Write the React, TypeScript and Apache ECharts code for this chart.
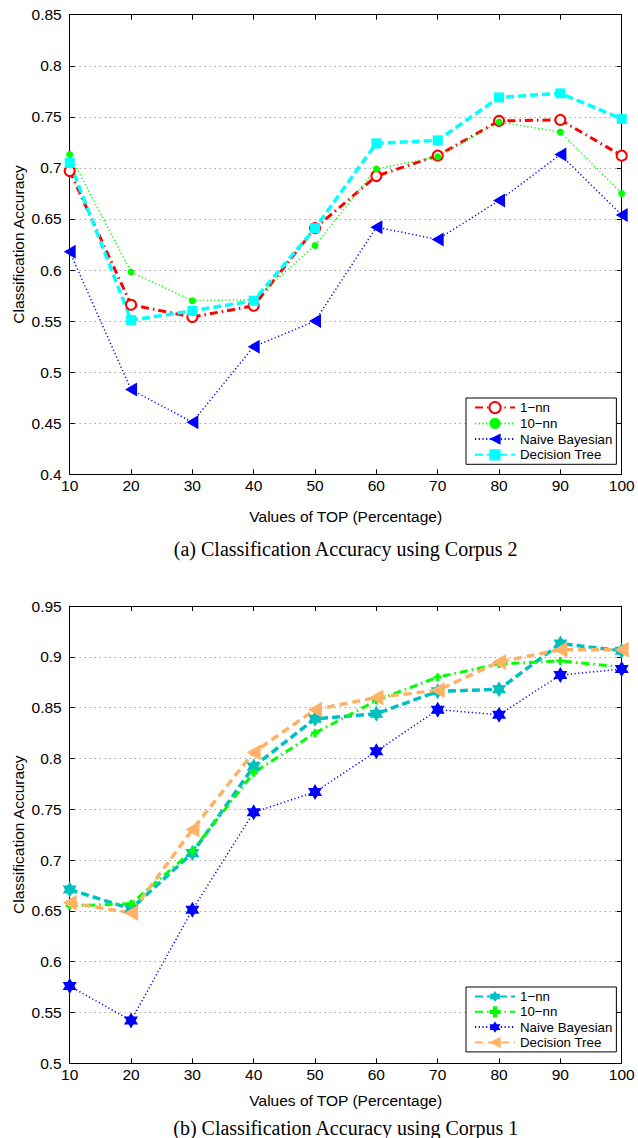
import React, { useEffect, useRef } from "react";
import * as echarts from "echarts";

// ---------- data ----------
const topValues = [10, 20, 30, 40, 50, 60, 70, 80, 90, 100];
const legendNames = ["1\u2212nn", "10\u2212nn", "Naive Bayesian", "Decision Tree"];

// (a) Corpus 2
const corpus2OneNN = [0.697, 0.566, 0.554, 0.565, 0.641, 0.692, 0.712, 0.746, 0.747, 0.712];
const corpus2TenNN = [0.713, 0.598, 0.570, 0.571, 0.624, 0.699, 0.711, 0.745, 0.735, 0.675];
const corpus2NaiveBayes = [0.618, 0.483, 0.451, 0.525, 0.550, 0.642, 0.630, 0.668, 0.713, 0.654];
const corpus2DecisionTree = [0.705, 0.551, 0.560, 0.570, 0.641, 0.724, 0.727, 0.769, 0.773, 0.748];

// (b) Corpus 1
const corpus1OneNN = [0.671, 0.652, 0.707, 0.792, 0.839, 0.844, 0.866, 0.868, 0.913, 0.906];
const corpus1TenNN = [0.655, 0.657, 0.709, 0.786, 0.825, 0.857, 0.880, 0.893, 0.896, 0.890];
const corpus1NaiveBayes = [0.576, 0.542, 0.651, 0.747, 0.767, 0.807, 0.848, 0.843, 0.882, 0.888];
const corpus1DecisionTree = [0.658, 0.648, 0.730, 0.806, 0.848, 0.860, 0.867, 0.895, 0.907, 0.907];

const titleA = "(a) Classification Accuracy using Corpus 2";
const titleB = "(b) Classification Accuracy using Corpus 1";
const xAxisName = "Values of TOP (Percentage)";
const yAxisName = "Classification Accuracy";

// ---------- styles ----------
const FONT = '"Liberation Sans", Arial, Helvetica, sans-serif';
const SERIF = '"Liberation Serif", "Times New Roman", serif';
const hexagram =
  "path://M0,-10L2.887,-5L8.66,-5L5.774,0L8.66,5L2.887,5L0,10L-2.887,5L-8.66,5L-5.774,0L-8.66,-5L-2.887,-5Z";
const plusMark = "path://M-1.3,-3.5H1.3V-1.3H3.5V1.3H1.3V3.5H-1.3V1.3H-3.5V-1.3H-1.3Z";

const pairs = (vals: number[]) => topValues.map((x, i) => [x, vals[i]]);

function lineSeries(name: string, vals: number[], color: string, width: number, dash: any, symbol: string, symbolSize: any, extra: any = {}) {
  return {
    type: "line",
    name,
    data: pairs(vals),
    symbol,
    symbolSize,
    showAllSymbol: true,
    silent: true,
    lineStyle: { color, width, type: dash },
    itemStyle: { color, borderColor: color, borderWidth: extra.borderWidth ?? 0 },
    symbolRotate: extra.rotate ?? 0,
    emphasis: { disabled: true },
    z: 2,
  };
}

function buildOption(cfg: any) {
  const gridLeft = 69.7;
  const gridWidth = 552;
  const axisLine = { show: true, onZero: false, lineStyle: { color: "#000", width: 1 } };
  const axisTick = { show: true, inside: true, length: 5, lineStyle: { color: "#000", width: 1 } };
  return {
    animation: false,
    backgroundColor: "#fff",
    grid: {
      left: gridLeft,
      top: cfg.gridTop,
      width: gridWidth,
      height: cfg.gridHeight,
      outerBoundsMode: "none",
      containLabel: false,
    },
    xAxis: [
      {
        type: "value",
        min: 10,
        max: 100,
        interval: 10,
        position: "bottom",
        axisLine,
        axisTick,
        splitLine: { show: false },
        axisLabel: { color: "#000", fontSize: 15.5, fontFamily: FONT, margin: 3 },
        name: xAxisName,
        nameLocation: "middle",
        nameGap: cfg.xNameGap,
        nameMoveOverlap: false,
        nameTextStyle: { color: "#000", fontSize: 15.5, fontFamily: FONT },
      },
      {
        type: "value",
        min: 10,
        max: 100,
        interval: 10,
        position: "top",
        axisLine,
        axisTick,
        splitLine: { show: false },
        axisLabel: { show: false },
      },
    ],
    yAxis: [
      {
        type: "value",
        min: cfg.yMin,
        max: cfg.yMax,
        interval: 0.05,
        position: "left",
        axisLine,
        axisTick,
        axisLabel: { color: "#000", fontSize: 15.5, fontFamily: FONT, margin: 8 },
        splitLine: {
          show: true,
          showMinLine: false,
          showMaxLine: false,
          lineStyle: { color: "#777", width: 1, type: [1, 4] },
        },
        name: yAxisName,
        nameLocation: "middle",
        nameGap: 43,
        nameRotate: 90,
        nameMoveOverlap: false,
        nameTextStyle: { color: "#000", fontSize: 15.5, fontFamily: FONT },
      },
      {
        type: "value",
        min: cfg.yMin,
        max: cfg.yMax,
        interval: 0.05,
        position: "right",
        axisLine,
        axisTick,
        axisLabel: { show: false },
        splitLine: { show: false },
      },
    ],
    legend: {
      orient: "vertical",
      left: 466,
      top: cfg.legendTop,
      padding: [3, 4, 3, 8],
      itemWidth: 40,
      itemHeight: 14,
      itemGap: cfg.legendGap,
      borderColor: "#000",
      borderWidth: 1,
      borderRadius: 0,
      backgroundColor: "#fff",
      selectedMode: false,
      textStyle: { color: "#000", fontSize: 13.3, fontFamily: FONT },
      data: legendNames,
      z: 10,
    },
    graphic: [
      {
        type: "text",
        x: gridLeft + gridWidth / 2,
        y: cfg.titleY,
        style: {
          text: cfg.title,
          font: `20px ${SERIF}`,
          fill: "#000",
          textAlign: "center",
          textVerticalAlign: "middle",
          align: "center",
          verticalAlign: "middle",
        },
      },
    ],
    series: cfg.series,
  };
}

const optionA = buildOption({
  yMin: 0.4,
  yMax: 0.85,
  gridTop: 14.7,
  gridHeight: 459.6,
  legendTop: 398,
  legendGap: 2.7,
  titleY: 549,
  xNameGap: 34,
  title: titleA,
  series: [
    lineSeries(legendNames[0], corpus2OneNN, "#ff0000", 3, [8, 4, 1.5, 4], "emptyCircle", 10, { borderWidth: 2.5 }),
    lineSeries(legendNames[1], corpus2TenNN, "#00ff00", 1.5, [1.2, 2.5], "circle", 7),
    lineSeries(legendNames[2], corpus2NaiveBayes, "#0000ff", 1.5, [1.2, 2.5], "triangle", [14, 12], { rotate: 90 }),
    lineSeries(legendNames[3], corpus2DecisionTree, "#00ffff", 3.5, [8, 4], "rect", 10),
  ],
});

const optionB = buildOption({
  yMin: 0.5,
  yMax: 0.95,
  gridTop: 37,
  gridHeight: 457.3,
  legendTop: 418,
  legendGap: 2.3,
  titleY: 559,
  xNameGap: 29,
  title: titleB,
  series: [
    lineSeries(legendNames[0], corpus1OneNN, "#00bfbf", 3.5, [8, 4], hexagram, [14, 16]),
    lineSeries(legendNames[1], corpus1TenNN, "#00ff00", 3, [8, 4, 1.5, 4], plusMark, 8),
    lineSeries(legendNames[2], corpus1NaiveBayes, "#0000ff", 1.5, [1.2, 2.5], hexagram, [14, 16]),
    lineSeries(legendNames[3], corpus1DecisionTree, "#ffb266", 3.5, [8, 5], "triangle", [16, 14], { rotate: 90 }),
  ],
});

function ChartPanel({ option, top }: { option: any; top: number }) {
  const ref = useRef<HTMLDivElement | null>(null);
  useEffect(() => {
    if (!ref.current) return;
    const chart = echarts.init(ref.current, null, { renderer: "svg" });
    chart.setOption(option);
    return () => {
      chart.dispose();
    };
  }, [option]);
  return <div ref={ref} style={{ position: "absolute", left: 0, top, width: 638, height: 569 }} />;
}

export default function App() {
  return (
    <div style={{ position: "absolute", left: 0, top: 0, width: 638, height: 1138, background: "#fff" }}>
      <ChartPanel option={optionA} top={0} />
      <ChartPanel option={optionB} top={569} />
    </div>
  );
}
